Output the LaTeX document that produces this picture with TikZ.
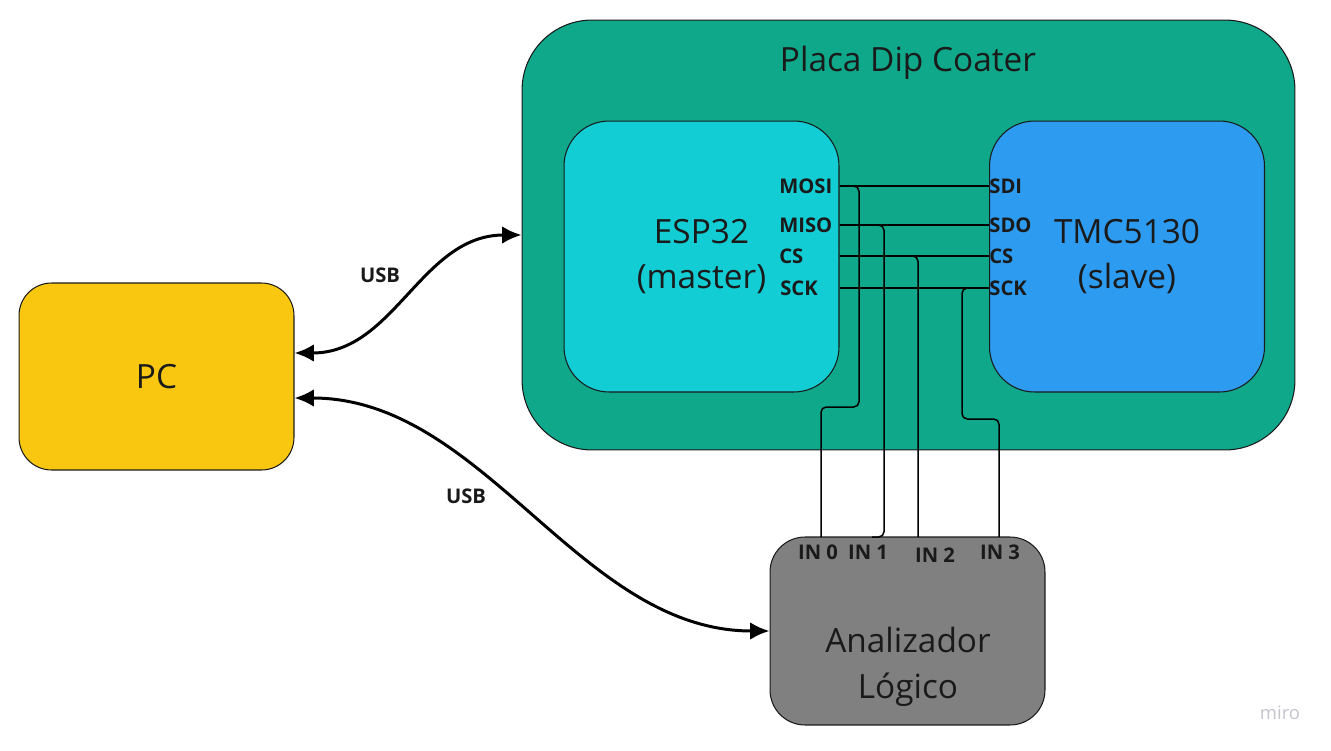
\documentclass[tikz,border=0pt]{standalone}
\usepackage{fontspec}
\setmainfont{Open Sans}
\usetikzlibrary{arrows.meta}
\definecolor{board}{HTML}{0FA88A}
\definecolor{espcol}{HTML}{13CDD4}
\definecolor{tmccol}{HTML}{2D9BF0}
\definecolor{pccol}{HTML}{FAC710}
\definecolor{anacol}{HTML}{808080}
\definecolor{ink}{HTML}{1A1A1A}
\definecolor{wm}{HTML}{C4C4CC}

\begin{document}
\begin{tikzpicture}[x=0.02cm,y=-0.02cm,
        box/.style={draw=ink,line width=0.6pt,text=ink,align=center,font=\fontsize{19}{26}\selectfont,minimum width=5.5cm},
        big/.style={text=ink,align=center,font=\fontsize{19}{26}\selectfont},
        pin/.style={inner sep=0pt,text=ink,font=\bfseries\fontsize{11.5}{13}\selectfont},
        wire/.style={line width=0.85pt,rounded corners=3pt},
        usb/.style={line width=1.7pt,{Latex[length=11pt,width=10pt]}-{Latex[length=11pt,width=10pt]}}]
        \useasboundingbox (0,0) rectangle (1331,750);

        \node[box,fill=board,rounded corners=1.4cm,minimum width=15.46cm,minimum height=8.6cm] at (908.5,235) (board) {};
        \node[big] at (908,63) (title) {Placa Dip Coater};
        \node[box,fill=espcol,rounded corners=0.9cm,minimum height=5.42cm] at (701.5,256.5) (esp) {ESP32\\(master)};
        \node[box,fill=tmccol,rounded corners=0.9cm,minimum height=5.42cm] at (1127,256.5) (tmc) {TMC5130\\(slave)};
        \node[box,fill=pccol,rounded corners=0.65cm,minimum height=3.74cm] at (156.5,376.5) (pc) {PC};
        \node[box,fill=anacol,rounded corners=0.7cm,minimum height=3.76cm] at (907.5,631) (ana) {};
        \node[big] at (908,667) (analbl) {Analizador\\Lógico};

        % pines
        \node[pin,anchor=west] at (779,186) (mosi) {MOSI};
        \node[pin,anchor=west] at (779,225) (miso) {MISO};
        \node[pin,anchor=west] at (779,256) (csm) {CS};
        \node[pin,anchor=west] at (780,288) (sckm) {SCK};
        \node[pin,anchor=west] at (989,186) (sdi) {SDI};
        \node[pin,anchor=west] at (989,225) (sdo) {SDO};
        \node[pin,anchor=west] at (989,256) (css) {CS};
        \node[pin,anchor=west] at (989,288) (scks) {SCK};
        \node[pin] at (818,552) (in0) {IN 0};
        \node[pin] at (868,552) (in1) {IN 1};
        \node[pin] at (935,555) (in2) {IN 2};
        \node[pin] at (1000,552) (in3) {IN 3};

        \coordinate (t0) at (821,537);
        \coordinate (t1) at (872,537);
        \coordinate (t2) at (918,537);
        \coordinate (t3) at (999,537);

        \draw[wire] (esp.east |- mosi) -- (tmc.west |- sdi);
        \draw[wire] (esp.east |- miso) -- (tmc.west |- sdo);
        \draw[wire] (esp.east |- csm) -- (tmc.west |- css);
        \draw[wire] (esp.east |- sckm) -- (tmc.west |- scks);

        \draw[wire] (esp.east |- mosi) -| (859,407) -| (t0);
        \draw[wire] (esp.east |- miso) -| (884,537) -- (t1);
        \draw[wire] (esp.east |- csm) -| (t2);
        \draw[wire] (tmc.west |- scks) -| (962,419) -| (t3);

        % USB
        \draw[usb] ([yshift=0.47cm]pc.east) .. controls +(100,0) and +(-100,0) .. (board.west);
        \draw[usb] ([yshift=-0.43cm]pc.east) .. controls +(190,0) and +(-190,0) .. (ana.west);
        \node[pin] at (380,275) (usb1) {USB};
        \node[pin] at (466,496) (usb2) {USB};

        \node[text=wm,font=\fontsize{10.5}{12}\selectfont] at (1280,713) (miro) {miro};
    \end{tikzpicture}
\end{document}
